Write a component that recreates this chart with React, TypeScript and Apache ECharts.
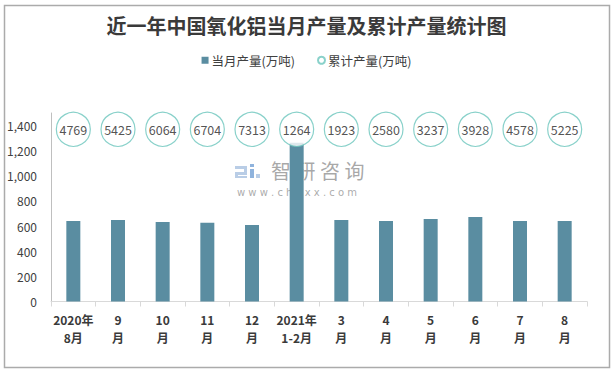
import React, { useEffect, useRef } from "react";
import * as echarts from "echarts";

const categories = [
  "2020年\n8月", "9\n月", "10\n月", "11\n月", "12\n月", "2021年\n1-2月",
  "3\n月", "4\n月", "5\n月", "6\n月", "7\n月", "8\n月",
];
const monthly = [641, 648, 633, 626, 609, 1264, 648, 641, 656, 672, 641, 641];
const cumulative = [4769, 5425, 6064, 6704, 7313, 1264, 1923, 2580, 3237, 3928, 4578, 5225];
const yTicks = { min: 0, max: 1500, interval: 200 };

const CIRCLE_LEVEL = 1370;
const BAR_COLOR = "#5a8da1";
const CIRCLE_COLOR = "#6cc6bd";

export default function App() {
  const ref = useRef<HTMLDivElement>(null);
  useEffect(() => {
    if (!ref.current) return;
    const chart = echarts.init(ref.current, null, { renderer: "svg" });
    chart.setOption({
      animation: false,
      backgroundColor: "#ffffff",
      textStyle: { fontFamily: "'Noto Sans CJK SC', 'Noto Sans', sans-serif" },
      title: {
        text: "近一年中国氧化铝当月产量及累计产量统计图",
        left: "center",
        top: 10,
        textStyle: {
          fontSize: 20,
          fontWeight: "bold",
          color: "#3a3a3a",
          fontFamily: "'Noto Sans CJK SC', sans-serif",
        },
      },
      legend: {
        top: 49,
        left: "center",
        itemWidth: 7,
        itemHeight: 7,
        itemGap: 22,
        textStyle: { fontSize: 12.5, color: "#404040", padding: [0, 0, 0, -2] },
        data: [
          { name: "当月产量(万吨)", icon: "rect" },
          { name: "累计产量(万吨)", icon: "circle" },
        ],
      },
      grid: { left: 51, right: 26, top: 113, bottom: 67.5, containLabel: false },
      xAxis: {
        type: "category",
        data: categories,
        axisLine: { show: true, lineStyle: { color: "#d9d9d9", width: 1 } },
        axisTick: { show: true, alignWithLabel: false, length: 5, lineStyle: { color: "#d9d9d9" } },
        axisLabel: {
          interval: 0,
          fontSize: 12,
          fontWeight: "bold",
          color: "#3a3a3a",
          lineHeight: 18,
          margin: 9,
        },
      },
      yAxis: {
        type: "value",
        min: yTicks.min,
        max: yTicks.max,
        interval: yTicks.interval,
        splitLine: { show: false },
        axisTick: { show: false },
        axisLine: { show: true, lineStyle: { color: "#bfbfbf", width: 1 } },
        axisLabel: {
          showMaxLabel: false,
          fontSize: 12,
          color: "#404040",
          margin: 14,
          formatter: (v: number) => v.toLocaleString("en-US"),
        },
      },
      series: [
        {
          name: "当月产量(万吨)",
          type: "bar",
          data: monthly,
          barWidth: 14,
          itemStyle: { color: BAR_COLOR },
          z: 3,
        },
        {
          name: "累计产量(万吨)",
          type: "scatter",
          data: cumulative.map(() => CIRCLE_LEVEL),
          symbol: "circle",
          symbolSize: 34,
          itemStyle: { color: "#ffffff", borderColor: CIRCLE_COLOR, borderWidth: 1.2 },
          label: {
            show: true,
            position: "inside",
            fontSize: 12.5,
            color: "#262626",
            formatter: (p: any) => String(cumulative[p.dataIndex]),
          },
          z: 4,
        },
      ],
      graphic: [
        {
          type: "rect",
          left: 2,
          top: 3,
          shape: { x: 0, y: 0, width: 605, height: 362 },
          style: { fill: "none", stroke: "#ababab", lineWidth: 1.5 },
          silent: true,
          z: 0,
        },
        {
          type: "group",
          left: 235,
          top: 160,
          z: 1,
          silent: true,
          children: [
            { type: "rect", shape: { x: 0, y: 6, width: 12, height: 3 }, style: { fill: "#b9cde6" } },
            { type: "rect", shape: { x: 9, y: 6, width: 3, height: 8 }, style: { fill: "#b9cde6" } },
            { type: "rect", shape: { x: 0, y: 12, width: 12, height: 3 }, style: { fill: "#b9cde6" } },
            { type: "rect", shape: { x: 0, y: 12, width: 3, height: 6 }, style: { fill: "#b9cde6" } },
            { type: "rect", shape: { x: 0, y: 16, width: 12, height: 2 }, style: { fill: "#b9cde6" } },
            { type: "rect", shape: { x: 15, y: 4, width: 4, height: 3 }, style: { fill: "#8fb3dd" } },
            { type: "rect", shape: { x: 15, y: 9, width: 4, height: 9 }, style: { fill: "#8fb3dd" } },
            { type: "rect", shape: { x: 21, y: 14, width: 4, height: 4 }, style: { fill: "#b9cde6" } },
            {
              type: "text",
              x: 36,
              y: 0,
              style: {
                text: "智 研 咨 询",
                font: "20px 'Noto Sans CJK SC', sans-serif",
                fill: "rgba(140,140,140,0.75)",
              },
            },
            {
              type: "text",
              x: 2,
              y: 27,
              style: {
                text: "w w w . c h y x x . c o m",
                font: "10px 'DejaVu Sans', sans-serif",
                fill: "rgba(150,150,150,0.8)",
              },
            },
          ],
        },
      ],
    });
    return () => chart.dispose();
  }, []);
  return (
    <div
      ref={ref}
      style={{ position: "absolute", left: 0, top: 0, width: 613, height: 369 }}
    />
  );
}
